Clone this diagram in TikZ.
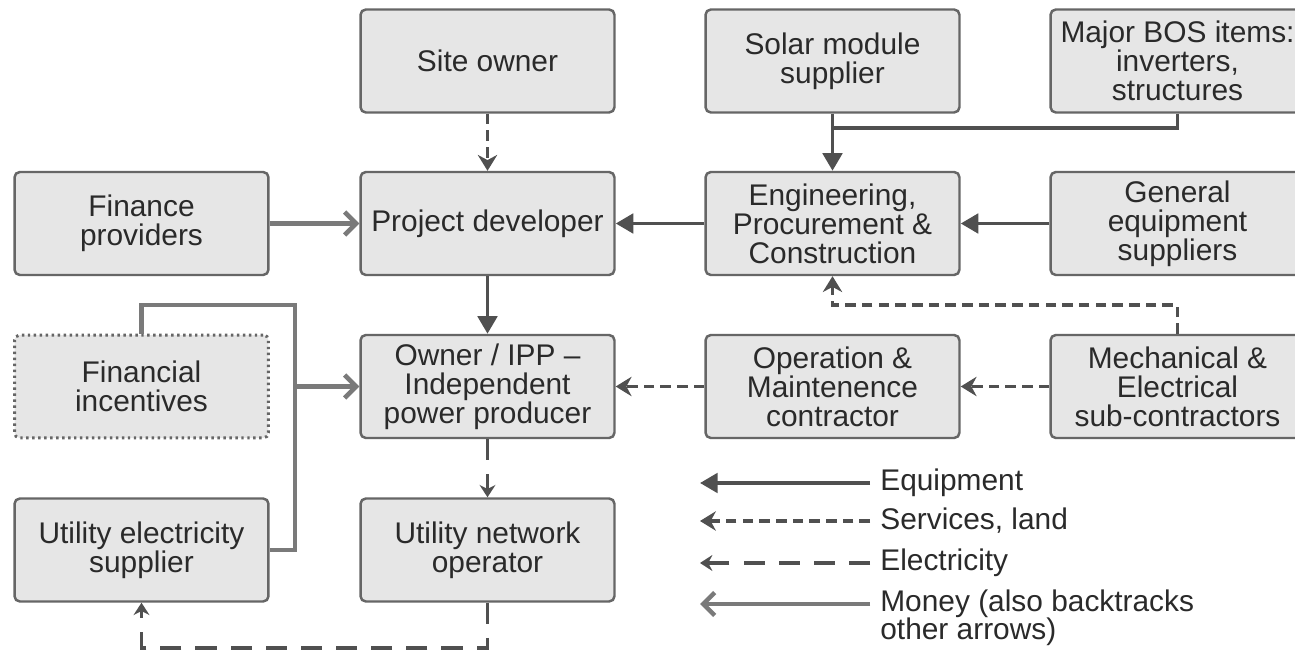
\documentclass[tikz,border=0pt]{standalone}
\usepackage{fontspec}
\setmainfont{Liberation Sans}
\usetikzlibrary{arrows.meta}
\definecolor{boxfill}{HTML}{E6E6E6}
\definecolor{boxline}{HTML}{666666}
\definecolor{conn}{HTML}{505050}
\definecolor{money}{HTML}{7A7A7A}
\definecolor{txt}{HTML}{2A2A2A}
\begin{document}
\begin{tikzpicture}[x=0.02cm,y=-0.02cm,
 box/.style={draw=boxline, fill=boxfill, line width=1.4pt, rounded corners=3pt, minimum width=5.08cm, minimum height=2.06cm, inner sep=0pt, align=center, text=txt, font=\fontsize{17}{16.5}\selectfont},
 dotbox/.style={box, dotted, line width=1.7pt},
 equip/.style={draw=conn, line width=2.2pt, -{Triangle[length=10pt,width=11pt]}},
 eqline/.style={draw=conn, line width=2.2pt},
 serv/.style={draw=conn, line width=2.2pt, dash pattern=on 6pt off 3.5pt, -{Stealth[length=9pt,width=11pt]}},
 elec/.style={draw=conn, line width=2.2pt, dash pattern=on 12pt off 8pt, -{Stealth[length=7pt,width=9pt]}},
 mon/.style={draw=money, line width=2.6pt, -{Straight Barb[length=6.5pt,width=13pt,line width=2.6pt]}},
 monline/.style={draw=money, line width=2.6pt},
 leg/.style={anchor=west, inner sep=0pt, text=txt, font=\fontsize{17}{16}\selectfont, align=left}
]
\useasboundingbox (0,0) rectangle (1295,655);
\clip (0,0) rectangle (1295,655);
\fill[white] (0,0) rectangle (1295,655);

% boxes
\node[box] (site) at (487.5,61) {Site owner};
\node[box] (solar) at (832.5,61) {Solar module\\supplier};
\node[box] (bos) at (1177.5,61) {Major BOS items:\\inverters,\\structures};
\node[box] (fin) at (141.5,223.5) {Finance\\providers};
\node[box] (pd) at (487.5,223.5) {Project developer};
\node[box] (epc) at (832.5,223.5) {Engineering,\\Procurement \&\\Construction};
\node[box] (gen) at (1177.5,223.5) {General\\equipment\\suppliers};
\node[dotbox] (inc) at (141.5,386.5) {Financial\\incentives};
\node[box] (ipp) at (487.5,386.5) {Owner / IPP --\\Independent\\power producer};
\node[box] (om) at (832.5,386.5) {Operation \&\\Maintenence\\contractor};
\node[box] (mech) at (1177.5,386.5) {Mechanical \&\\Electrical\\sub-contractors};
\node[box] (ues) at (141.5,550) {Utility electricity\\supplier};
\node[box] (uno) at (487.5,550) {Utility network\\operator};

% connectors
\draw[serv] (site) -- (pd);
\draw[mon] (fin) -- (pd);
\draw[equip] (epc) -- (pd);
\coordinate (jb) at (832.5,128);
\draw[equip] (solar) -- (epc);
\draw[eqline] (bos.south) |- (jb);
\draw[equip] (gen) -- (epc);
\draw[equip] (pd) -- (ipp);
\coordinate (mc) at (1177.5,305);
\draw[serv] (mech.north) -- (mc) -| (epc.south);
\draw[serv] (mech) -- (om);
\draw[serv] (om) -- (ipp);
\draw[elec] (ipp) -- (uno);
\coordinate (ub) at (487.5,648);
\draw[elec] (uno.south) -- (ub) -| (ues.south);
\coordinate (ic) at (141.5,305);
\coordinate (ir) at (295,305);
\coordinate (im) at (295,386.5);
\draw[monline] (inc.north) -- (ic) -- (ir) |- (ues.east);
\draw[mon] (im) -- (ipp.west);

% legend
\coordinate (l1a) at (870,483); \coordinate (l1b) at (700,483);
\coordinate (l2a) at (870,521); \coordinate (l2b) at (700,521);
\coordinate (l3a) at (870,563); \coordinate (l3b) at (700,563);
\coordinate (l4a) at (870,604); \coordinate (l4b) at (700,604);
\draw[equip] (l1a) -- (l1b);
\draw[serv] (l2a) -- (l2b);
\draw[elec] (l3a) -- (l3b);
\draw[mon] (l4a) -- (l4b);
\node[leg] (t1) at (880,483) {Equipment};
\node[leg] (t2) at (880,521) {Services, land};
\node[leg] (t3) at (880,563) {Electricity};
\node[leg] (t4) at (880,618) {Money (also backtracks\\other arrows)};
\end{tikzpicture}
\end{document}
